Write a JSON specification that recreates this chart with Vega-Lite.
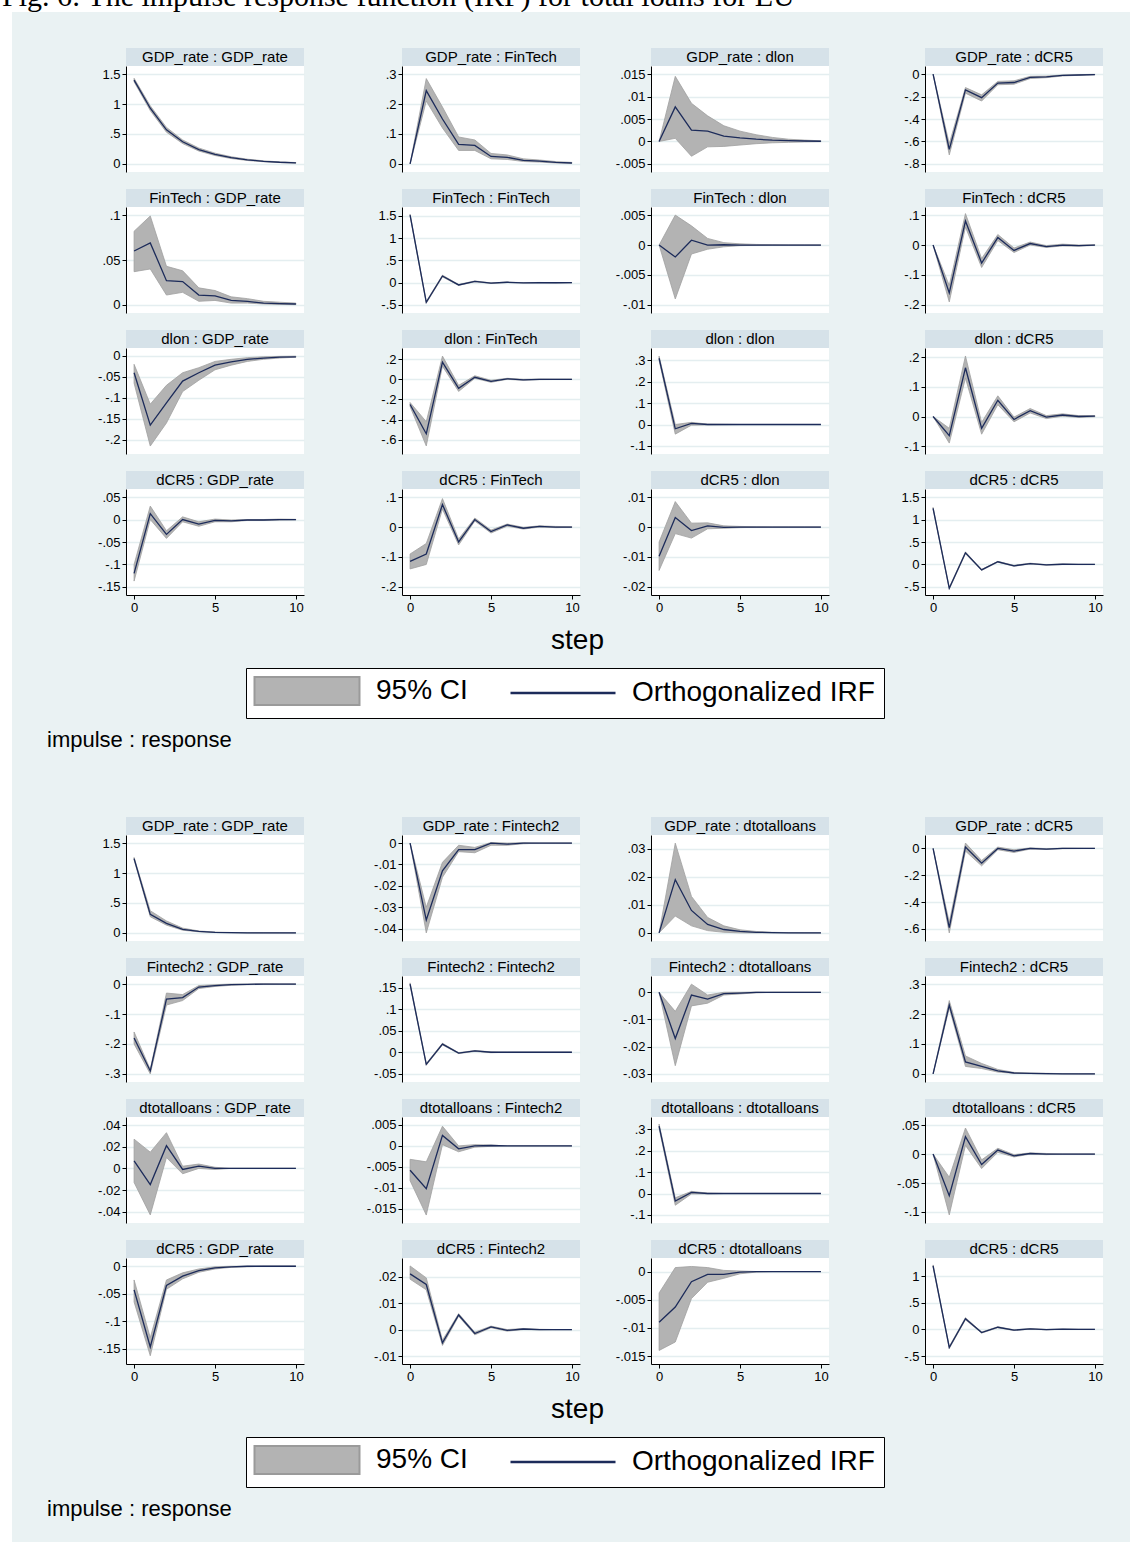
{
"$schema":"https://vega.github.io/schema/vega-lite/v6.json",
"background":"#eaf2f3",
"padding":0,
"spacing":0,
"config":{
 "font":"Liberation Sans",
 "view":{"stroke":null,"fill":"white"},
 "axis":{"labelFontSize":13,"labelColor":"black","domainColor":"black","domainWidth":1,"tickColor":"black","tickSize":4,"tickWidth":1,"labelPadding":2,"gridColor":"#e4eef0","gridWidth":1.3,"labelOverlap":false},
 "axisY":{"grid":true,"labelExpr":"(datum.value < 0 ? '-' : '') + replace(format(abs(datum.value), '~r'), '0.', '.')"},
 "axisX":{"grid":false,"labelFlush":false},
 "area":{"color":"#b3b3b3","stroke":"#a0a0a0","strokeWidth":0.8},
 "line":{"color":"#1c2b5a","strokeWidth":1.3},
 "text":{"fontSize":15,"color":"black"},
 "title":{"color":"black","fontWeight":"normal"}
},
"datasets":{
"t11":[{"s":0,"v":1.4,"l":1.37,"h":1.43},{"s":1,"v":0.93,"l":0.89,"h":0.97},{"s":2,"v":0.57,"l":0.53,"h":0.61},{"s":3,"v":0.37,"l":0.34,"h":0.4},{"s":4,"v":0.24,"l":0.215,"h":0.265},{"s":5,"v":0.16,"l":0.14,"h":0.18},{"s":6,"v":0.105,"l":0.09,"h":0.12},{"s":7,"v":0.068,"l":0.057,"h":0.079},{"s":8,"v":0.044,"l":0.036,"h":0.052},{"s":9,"v":0.028,"l":0.022,"h":0.034},{"s":10,"v":0.018,"l":0.013,"h":0.023}],
"t12":[{"s":0,"v":0,"l":0,"h":0},{"s":1,"v":0.245,"l":0.21,"h":0.285},{"s":2,"v":0.15,"l":0.12,"h":0.19},{"s":3,"v":0.065,"l":0.045,"h":0.09},{"s":4,"v":0.062,"l":0.045,"h":0.08},{"s":5,"v":0.025,"l":0.017,"h":0.035},{"s":6,"v":0.022,"l":0.015,"h":0.03},{"s":7,"v":0.012,"l":0.008,"h":0.017},{"s":8,"v":0.009,"l":0.006,"h":0.013},{"s":9,"v":0.005,"l":0.003,"h":0.008},{"s":10,"v":0.003,"l":0.002,"h":0.005}],
"t13":[{"s":0,"v":0,"l":0,"h":0},{"s":1,"v":0.0077,"l":0.0007,"h":0.0145},{"s":2,"v":0.0025,"l":-0.0033,"h":0.0085},{"s":3,"v":0.0023,"l":-0.0012,"h":0.0057},{"s":4,"v":0.0012,"l":-0.0011,"h":0.0035},{"s":5,"v":0.0008,"l":-0.0008,"h":0.0023},{"s":6,"v":0.0005,"l":-0.0005,"h":0.0015},{"s":7,"v":0.0003,"l":-0.0003,"h":0.0009},{"s":8,"v":0.0002,"l":-0.0002,"h":0.0005},{"s":9,"v":0.0001,"l":-0.0001,"h":0.0003},{"s":10,"v":0.00005,"l":-0.00005,"h":0.00015}],
"t14":[{"s":0,"v":0,"l":0,"h":0},{"s":1,"v":-0.67,"l":-0.72,"h":-0.62},{"s":2,"v":-0.14,"l":-0.17,"h":-0.12},{"s":3,"v":-0.21,"l":-0.24,"h":-0.185},{"s":4,"v":-0.08,"l":-0.095,"h":-0.065},{"s":5,"v":-0.075,"l":-0.09,"h":-0.06},{"s":6,"v":-0.03,"l":-0.04,"h":-0.02},{"s":7,"v":-0.025,"l":-0.032,"h":-0.018},{"s":8,"v":-0.012,"l":-0.017,"h":-0.008},{"s":9,"v":-0.008,"l":-0.011,"h":-0.005},{"s":10,"v":-0.004,"l":-0.006,"h":-0.002}],
"t21":[{"s":0,"v":0.06,"l":0.037,"h":0.082},{"s":1,"v":0.069,"l":0.04,"h":0.099},{"s":2,"v":0.027,"l":0.011,"h":0.043},{"s":3,"v":0.026,"l":0.014,"h":0.038},{"s":4,"v":0.011,"l":0.004,"h":0.019},{"s":5,"v":0.01,"l":0.005,"h":0.016},{"s":6,"v":0.005,"l":0.002,"h":0.009},{"s":7,"v":0.004,"l":0.002,"h":0.007},{"s":8,"v":0.002,"l":0.001,"h":0.004},{"s":9,"v":0.0015,"l":0.0005,"h":0.003},{"s":10,"v":0.001,"l":0.0003,"h":0.002}],
"t22":[{"s":0,"v":1.52,"l":1.5,"h":1.54},{"s":1,"v":-0.44,"l":-0.46,"h":-0.42},{"s":2,"v":0.15,"l":0.13,"h":0.17},{"s":3,"v":-0.05,"l":-0.06,"h":-0.04},{"s":4,"v":0.03,"l":0.02,"h":0.04},{"s":5,"v":-0.01,"l":-0.016,"h":-0.004},{"s":6,"v":0.01,"l":0.005,"h":0.015},{"s":7,"v":-0.003,"l":-0.006,"h":0},{"s":8,"v":0.003,"l":0,"h":0.006},{"s":9,"v":-0.001,"l":-0.003,"h":0.001},{"s":10,"v":0,"l":-0.001,"h":0.001}],
"t23":[{"s":0,"v":0,"l":0,"h":0},{"s":1,"v":-0.002,"l":-0.009,"h":0.005},{"s":2,"v":0.0008,"l":-0.0015,"h":0.0032},{"s":3,"v":0,"l":-0.0007,"h":0.0011},{"s":4,"v":0.00005,"l":-0.0003,"h":0.0004},{"s":5,"v":0,"l":-0.0001,"h":0.0002},{"s":6,"v":0,"l":-0.00005,"h":0.0001},{"s":7,"v":0,"l":0,"h":0.00005},{"s":8,"v":0,"l":0,"h":0},{"s":9,"v":0,"l":0,"h":0},{"s":10,"v":0,"l":0,"h":0}],
"t24":[{"s":0,"v":0,"l":0,"h":0},{"s":1,"v":-0.16,"l":-0.19,"h":-0.135},{"s":2,"v":0.08,"l":0.06,"h":0.105},{"s":3,"v":-0.06,"l":-0.075,"h":-0.045},{"s":4,"v":0.025,"l":0.015,"h":0.035},{"s":5,"v":-0.018,"l":-0.025,"h":-0.01},{"s":6,"v":0.005,"l":0,"h":0.01},{"s":7,"v":-0.005,"l":-0.008,"h":-0.002},{"s":8,"v":0,"l":-0.003,"h":0.003},{"s":9,"v":-0.002,"l":-0.004,"h":0},{"s":10,"v":0,"l":-0.001,"h":0.001}],
"t31":[{"s":0,"v":-0.04,"l":-0.065,"h":-0.02},{"s":1,"v":-0.165,"l":-0.215,"h":-0.115},{"s":2,"v":-0.112,"l":-0.16,"h":-0.07},{"s":3,"v":-0.06,"l":-0.085,"h":-0.04},{"s":4,"v":-0.04,"l":-0.058,"h":-0.028},{"s":5,"v":-0.022,"l":-0.033,"h":-0.013},{"s":6,"v":-0.014,"l":-0.022,"h":-0.008},{"s":7,"v":-0.008,"l":-0.013,"h":-0.004},{"s":8,"v":-0.005,"l":-0.008,"h":-0.002},{"s":9,"v":-0.003,"l":-0.005,"h":-0.001},{"s":10,"v":-0.002,"l":-0.003,"h":-0.0005}],
"t32":[{"s":0,"v":-0.25,"l":-0.27,"h":-0.23},{"s":1,"v":-0.54,"l":-0.66,"h":-0.42},{"s":2,"v":0.17,"l":0.13,"h":0.23},{"s":3,"v":-0.09,"l":-0.12,"h":-0.06},{"s":4,"v":0.02,"l":0.01,"h":0.035},{"s":5,"v":-0.02,"l":-0.03,"h":-0.01},{"s":6,"v":0.005,"l":0,"h":0.01},{"s":7,"v":-0.005,"l":-0.01,"h":0},{"s":8,"v":0,"l":-0.003,"h":0.003},{"s":9,"v":0,"l":-0.002,"h":0.002},{"s":10,"v":0,"l":-0.001,"h":0.001}],
"t33":[{"s":0,"v":0.31,"l":0.3,"h":0.32},{"s":1,"v":-0.02,"l":-0.045,"h":0},{"s":2,"v":0.005,"l":-0.003,"h":0.01},{"s":3,"v":0,"l":-0.002,"h":0.002},{"s":4,"v":0,"l":-0.001,"h":0.001},{"s":5,"v":0,"l":0,"h":0},{"s":6,"v":0,"l":0,"h":0},{"s":7,"v":0,"l":0,"h":0},{"s":8,"v":0,"l":0,"h":0},{"s":9,"v":0,"l":0,"h":0},{"s":10,"v":0,"l":0,"h":0}],
"t34":[{"s":0,"v":0,"l":0,"h":0},{"s":1,"v":-0.065,"l":-0.09,"h":-0.04},{"s":2,"v":0.165,"l":0.13,"h":0.205},{"s":3,"v":-0.04,"l":-0.06,"h":-0.02},{"s":4,"v":0.055,"l":0.04,"h":0.07},{"s":5,"v":-0.01,"l":-0.018,"h":-0.002},{"s":6,"v":0.02,"l":0.012,"h":0.027},{"s":7,"v":-0.002,"l":-0.007,"h":0.003},{"s":8,"v":0.005,"l":0.001,"h":0.009},{"s":9,"v":0,"l":-0.003,"h":0.003},{"s":10,"v":0.001,"l":-0.001,"h":0.003}],
"t41":[{"s":0,"v":-0.12,"l":-0.137,"h":-0.1},{"s":1,"v":0.013,"l":0,"h":0.03},{"s":2,"v":-0.033,"l":-0.042,"h":-0.025},{"s":3,"v":0,"l":-0.005,"h":0.006},{"s":4,"v":-0.01,"l":-0.015,"h":-0.005},{"s":5,"v":-0.002,"l":-0.005,"h":0.001},{"s":6,"v":-0.003,"l":-0.005,"h":-0.001},{"s":7,"v":-0.001,"l":-0.002,"h":0},{"s":8,"v":-0.001,"l":-0.002,"h":0},{"s":9,"v":0,"l":-0.001,"h":0.001},{"s":10,"v":0,"l":-0.0005,"h":0.0005}],
"t42":[{"s":0,"v":-0.115,"l":-0.14,"h":-0.09},{"s":1,"v":-0.09,"l":-0.125,"h":-0.055},{"s":2,"v":0.075,"l":0.06,"h":0.095},{"s":3,"v":-0.05,"l":-0.06,"h":-0.04},{"s":4,"v":0.025,"l":0.02,"h":0.03},{"s":5,"v":-0.015,"l":-0.02,"h":-0.01},{"s":6,"v":0.007,"l":0.003,"h":0.01},{"s":7,"v":-0.004,"l":-0.007,"h":-0.001},{"s":8,"v":0.002,"l":0,"h":0.004},{"s":9,"v":0,"l":-0.002,"h":0.002},{"s":10,"v":0,"l":-0.001,"h":0.001}],
"t43":[{"s":0,"v":-0.0098,"l":-0.0145,"h":-0.005},{"s":1,"v":0.0032,"l":-0.0022,"h":0.0085},{"s":2,"v":-0.0012,"l":-0.0037,"h":0.0013},{"s":3,"v":0.0004,"l":-0.0006,"h":0.0014},{"s":4,"v":-0.0001,"l":-0.0004,"h":0.0004},{"s":5,"v":0,"l":-0.0002,"h":0.0002},{"s":6,"v":0,"l":-0.0001,"h":0.0001},{"s":7,"v":0,"l":0,"h":0},{"s":8,"v":0,"l":0,"h":0},{"s":9,"v":0,"l":0,"h":0},{"s":10,"v":0,"l":0,"h":0}],
"t44":[{"s":0,"v":1.25,"l":1.23,"h":1.27},{"s":1,"v":-0.53,"l":-0.55,"h":-0.51},{"s":2,"v":0.26,"l":0.24,"h":0.28},{"s":3,"v":-0.12,"l":-0.13,"h":-0.11},{"s":4,"v":0.06,"l":0.05,"h":0.07},{"s":5,"v":-0.03,"l":-0.04,"h":-0.02},{"s":6,"v":0.02,"l":0.012,"h":0.028},{"s":7,"v":-0.01,"l":-0.016,"h":-0.004},{"s":8,"v":0.005,"l":0,"h":0.01},{"s":9,"v":0,"l":-0.003,"h":0.003},{"s":10,"v":0,"l":-0.002,"h":0.002}],
"b11":[{"s":0,"v":1.24,"l":1.22,"h":1.26},{"s":1,"v":0.31,"l":0.27,"h":0.37},{"s":2,"v":0.16,"l":0.13,"h":0.2},{"s":3,"v":0.06,"l":0.045,"h":0.08},{"s":4,"v":0.025,"l":0.018,"h":0.033},{"s":5,"v":0.01,"l":0.006,"h":0.015},{"s":6,"v":0.005,"l":0.002,"h":0.007},{"s":7,"v":0.002,"l":0.001,"h":0.003},{"s":8,"v":0.001,"l":0,"h":0.002},{"s":9,"v":0,"l":0,"h":0.001},{"s":10,"v":0,"l":0,"h":0}],
"b12":[{"s":0,"v":0,"l":0,"h":0},{"s":1,"v":-0.036,"l":-0.042,"h":-0.03},{"s":2,"v":-0.013,"l":-0.016,"h":-0.009},{"s":3,"v":-0.003,"l":-0.004,"h":-0.001},{"s":4,"v":-0.003,"l":-0.0045,"h":-0.002},{"s":5,"v":0,"l":-0.001,"h":0.0003},{"s":6,"v":-0.0005,"l":-0.001,"h":0},{"s":7,"v":0,"l":-0.0003,"h":0.0002},{"s":8,"v":0,"l":0,"h":0},{"s":9,"v":0,"l":0,"h":0},{"s":10,"v":0,"l":0,"h":0}],
"b13":[{"s":0,"v":0,"l":0,"h":0},{"s":1,"v":0.019,"l":0.006,"h":0.032},{"s":2,"v":0.008,"l":0.0025,"h":0.013},{"s":3,"v":0.003,"l":0.0008,"h":0.0055},{"s":4,"v":0.0012,"l":0.0002,"h":0.0025},{"s":5,"v":0.0005,"l":0,"h":0.0011},{"s":6,"v":0.0002,"l":0,"h":0.0005},{"s":7,"v":0.0001,"l":0,"h":0.0002},{"s":8,"v":0,"l":0,"h":0.0001},{"s":9,"v":0,"l":0,"h":0},{"s":10,"v":0,"l":0,"h":0}],
"b14":[{"s":0,"v":0,"l":0,"h":0},{"s":1,"v":-0.59,"l":-0.63,"h":-0.55},{"s":2,"v":0.01,"l":-0.02,"h":0.04},{"s":3,"v":-0.11,"l":-0.13,"h":-0.09},{"s":4,"v":0,"l":-0.01,"h":0.01},{"s":5,"v":-0.02,"l":-0.03,"h":-0.01},{"s":6,"v":0,"l":-0.005,"h":0.004},{"s":7,"v":-0.005,"l":-0.008,"h":-0.002},{"s":8,"v":0,"l":-0.002,"h":0.002},{"s":9,"v":0,"l":-0.001,"h":0.001},{"s":10,"v":0,"l":0,"h":0}],
"b21":[{"s":0,"v":-0.18,"l":-0.2,"h":-0.16},{"s":1,"v":-0.29,"l":-0.3,"h":-0.285},{"s":2,"v":-0.05,"l":-0.07,"h":-0.03},{"s":3,"v":-0.045,"l":-0.055,"h":-0.035},{"s":4,"v":-0.01,"l":-0.015,"h":-0.005},{"s":5,"v":-0.005,"l":-0.008,"h":-0.002},{"s":6,"v":-0.002,"l":-0.004,"h":0},{"s":7,"v":-0.001,"l":-0.002,"h":0},{"s":8,"v":0,"l":-0.001,"h":0.001},{"s":9,"v":0,"l":0,"h":0},{"s":10,"v":0,"l":0,"h":0}],
"b22":[{"s":0,"v":0.158,"l":0.155,"h":0.161},{"s":1,"v":-0.028,"l":-0.03,"h":-0.026},{"s":2,"v":0.019,"l":0.017,"h":0.021},{"s":3,"v":-0.002,"l":-0.003,"h":-0.001},{"s":4,"v":0.003,"l":0.002,"h":0.004},{"s":5,"v":0,"l":-0.001,"h":0.001},{"s":6,"v":0,"l":0,"h":0},{"s":7,"v":0,"l":0,"h":0},{"s":8,"v":0,"l":0,"h":0},{"s":9,"v":0,"l":0,"h":0},{"s":10,"v":0,"l":0,"h":0}],
"b23":[{"s":0,"v":0,"l":0,"h":0},{"s":1,"v":-0.017,"l":-0.027,"h":-0.007},{"s":2,"v":-0.001,"l":-0.005,"h":0.003},{"s":3,"v":-0.0025,"l":-0.004,"h":-0.001},{"s":4,"v":-0.0005,"l":-0.001,"h":0},{"s":5,"v":-0.0003,"l":-0.0006,"h":0},{"s":6,"v":0,"l":-0.0002,"h":0.0001},{"s":7,"v":0,"l":0,"h":0},{"s":8,"v":0,"l":0,"h":0},{"s":9,"v":0,"l":0,"h":0},{"s":10,"v":0,"l":0,"h":0}],
"b24":[{"s":0,"v":0,"l":0,"h":0},{"s":1,"v":0.23,"l":0.22,"h":0.245},{"s":2,"v":0.04,"l":0.025,"h":0.06},{"s":3,"v":0.025,"l":0.018,"h":0.035},{"s":4,"v":0.01,"l":0.006,"h":0.015},{"s":5,"v":0.003,"l":0.002,"h":0.005},{"s":6,"v":0.002,"l":0.001,"h":0.003},{"s":7,"v":0.001,"l":0,"h":0.002},{"s":8,"v":0,"l":0,"h":0.001},{"s":9,"v":0,"l":0,"h":0},{"s":10,"v":0,"l":0,"h":0}],
"b31":[{"s":0,"v":0.007,"l":-0.013,"h":0.027},{"s":1,"v":-0.015,"l":-0.043,"h":0.015},{"s":2,"v":0.021,"l":0.01,"h":0.033},{"s":3,"v":-0.001,"l":-0.005,"h":0.002},{"s":4,"v":0.002,"l":0,"h":0.004},{"s":5,"v":0,"l":-0.001,"h":0.001},{"s":6,"v":0,"l":0,"h":0},{"s":7,"v":0,"l":0,"h":0},{"s":8,"v":0,"l":0,"h":0},{"s":9,"v":0,"l":0,"h":0},{"s":10,"v":0,"l":0,"h":0}],
"b32":[{"s":0,"v":-0.0058,"l":-0.0083,"h":-0.0032},{"s":1,"v":-0.0102,"l":-0.0165,"h":-0.0038},{"s":2,"v":0.0025,"l":0.0003,"h":0.0047},{"s":3,"v":-0.0007,"l":-0.0014,"h":0},{"s":4,"v":0,"l":-0.0003,"h":0.0003},{"s":5,"v":0.0001,"l":-0.0001,"h":0.0002},{"s":6,"v":0,"l":0,"h":0},{"s":7,"v":0,"l":0,"h":0},{"s":8,"v":0,"l":0,"h":0},{"s":9,"v":0,"l":0,"h":0},{"s":10,"v":0,"l":0,"h":0}],
"b33":[{"s":0,"v":0.315,"l":0.305,"h":0.325},{"s":1,"v":-0.035,"l":-0.055,"h":-0.02},{"s":2,"v":0.005,"l":-0.002,"h":0.01},{"s":3,"v":0,"l":-0.002,"h":0.002},{"s":4,"v":0,"l":0,"h":0},{"s":5,"v":0,"l":0,"h":0},{"s":6,"v":0,"l":0,"h":0},{"s":7,"v":0,"l":0,"h":0},{"s":8,"v":0,"l":0,"h":0},{"s":9,"v":0,"l":0,"h":0},{"s":10,"v":0,"l":0,"h":0}],
"b34":[{"s":0,"v":0,"l":0,"h":0},{"s":1,"v":-0.072,"l":-0.105,"h":-0.04},{"s":2,"v":0.03,"l":0.015,"h":0.045},{"s":3,"v":-0.018,"l":-0.025,"h":-0.01},{"s":4,"v":0.007,"l":0.003,"h":0.01},{"s":5,"v":-0.003,"l":-0.005,"h":-0.001},{"s":6,"v":0.001,"l":0,"h":0.002},{"s":7,"v":0,"l":-0.001,"h":0.001},{"s":8,"v":0,"l":0,"h":0},{"s":9,"v":0,"l":0,"h":0},{"s":10,"v":0,"l":0,"h":0}],
"b41":[{"s":0,"v":-0.043,"l":-0.065,"h":-0.025},{"s":1,"v":-0.147,"l":-0.163,"h":-0.13},{"s":2,"v":-0.035,"l":-0.042,"h":-0.025},{"s":3,"v":-0.018,"l":-0.023,"h":-0.012},{"s":4,"v":-0.008,"l":-0.011,"h":-0.005},{"s":5,"v":-0.003,"l":-0.005,"h":-0.001},{"s":6,"v":-0.001,"l":-0.002,"h":0},{"s":7,"v":0,"l":-0.001,"h":0},{"s":8,"v":0,"l":0,"h":0},{"s":9,"v":0,"l":0,"h":0},{"s":10,"v":0,"l":0,"h":0}],
"b42":[{"s":0,"v":0.021,"l":0.019,"h":0.024},{"s":1,"v":0.017,"l":0.015,"h":0.0195},{"s":2,"v":-0.005,"l":-0.006,"h":-0.004},{"s":3,"v":0.0055,"l":0.005,"h":0.006},{"s":4,"v":-0.0015,"l":-0.002,"h":-0.001},{"s":5,"v":0.001,"l":0.0007,"h":0.0013},{"s":6,"v":-0.0003,"l":-0.0006,"h":0},{"s":7,"v":0.0002,"l":0,"h":0.0004},{"s":8,"v":0,"l":-0.0001,"h":0.0001},{"s":9,"v":0,"l":0,"h":0},{"s":10,"v":0,"l":0,"h":0}],
"b43":[{"s":0,"v":-0.009,"l":-0.014,"h":-0.0038},{"s":1,"v":-0.0063,"l":-0.0125,"h":0.0007},{"s":2,"v":-0.0018,"l":-0.0048,"h":0.0009},{"s":3,"v":-0.0005,"l":-0.0019,"h":0.0007},{"s":4,"v":-0.0005,"l":-0.0012,"h":0.0002},{"s":5,"v":-0.0001,"l":-0.0004,"h":0.0001},{"s":6,"v":0,"l":-0.0001,"h":0},{"s":7,"v":0,"l":0,"h":0},{"s":8,"v":0,"l":0,"h":0},{"s":9,"v":0,"l":0,"h":0},{"s":10,"v":0,"l":0,"h":0}],
"b44":[{"s":0,"v":1.19,"l":1.17,"h":1.21},{"s":1,"v":-0.34,"l":-0.36,"h":-0.32},{"s":2,"v":0.2,"l":0.18,"h":0.22},{"s":3,"v":-0.06,"l":-0.07,"h":-0.05},{"s":4,"v":0.04,"l":0.03,"h":0.05},{"s":5,"v":-0.015,"l":-0.022,"h":-0.008},{"s":6,"v":0.01,"l":0.005,"h":0.015},{"s":7,"v":-0.005,"l":-0.009,"h":-0.001},{"s":8,"v":0.003,"l":0,"h":0.006},{"s":9,"v":0,"l":-0.002,"h":0.002},{"s":10,"v":0,"l":-0.001,"h":0.001}]
},
"vconcat":[
{"width":1130,"height":12,"data":{"values":[{"t":"Fig. 6: The impulse response function (IRF) for total loans for EU"}]},"mark":{"type":"text","clip":true,"font":"Liberation Serif","fontSize":30,"align":"left","baseline":"alphabetic","dx":-563},"encoding":{"text":{"field":"t"}},"view":{"fill":"white"}},
{"spacing":0,"hconcat":[
{"width":12,"height":1530,"data":{"values":[]},"mark":"point","view":{"fill":"white"}},
{"spacing":12,"resolve":{"scale":{"color":"independent"},"legend":{"color":"independent"}},"vconcat":[
{"width":1,"height":24,"data":{"values":[]},"mark":"point","view":{"fill":"transparent"}},
{"columns":4,"spacing":{"row":17,"column":10},"title":{"text":"step","orient":"bottom","fontSize":28,"anchor":"middle","offset":13,"dx":20},"concat":[
{"spacing":0,"vconcat":[{"width":178,"height":18,"data":{"values":[{"t":"GDP_rate : GDP_rate"}]},"mark":"text","encoding":{"text":{"field":"t"}},"view":{"fill":"#d6e2e9"}},{"width":178,"height":106,"data":{"name":"t11"},"encoding":{"x":{"field":"s","type":"quantitative","title":null,"scale":{"domain":[-0.5,10.5],"nice":false,"zero":false},"axis":null}},"layer":[{"mark":"area","encoding":{"y":{"field":"l","type":"quantitative","title":null,"scale":{"domain":[-0.135,1.635],"nice":false,"zero":false},"axis":{"values":[0,0.5,1,1.5],"minExtent":114,"maxExtent":114}},"y2":{"field":"h"}}},{"mark":"line","encoding":{"y":{"field":"v","type":"quantitative","title":null,"scale":{"domain":[-0.135,1.635],"nice":false,"zero":false},"axis":{"values":[0,0.5,1,1.5],"minExtent":114,"maxExtent":114}}}}]}]},
{"spacing":0,"vconcat":[{"width":178,"height":18,"data":{"values":[{"t":"GDP_rate : FinTech"}]},"mark":"text","encoding":{"text":{"field":"t"}},"view":{"fill":"#d6e2e9"}},{"width":178,"height":106,"data":{"name":"t12"},"encoding":{"x":{"field":"s","type":"quantitative","title":null,"scale":{"domain":[-0.5,10.5],"nice":false,"zero":false},"axis":null}},"layer":[{"mark":"area","encoding":{"y":{"field":"l","type":"quantitative","title":null,"scale":{"domain":[-0.027,0.327],"nice":false,"zero":false},"axis":{"values":[0,0.1,0.2,0.3],"minExtent":88,"maxExtent":88}},"y2":{"field":"h"}}},{"mark":"line","encoding":{"y":{"field":"v","type":"quantitative","title":null,"scale":{"domain":[-0.027,0.327],"nice":false,"zero":false},"axis":{"values":[0,0.1,0.2,0.3],"minExtent":88,"maxExtent":88}}}}]}]},
{"spacing":0,"vconcat":[{"width":178,"height":18,"data":{"values":[{"t":"GDP_rate : dlon"}]},"mark":"text","encoding":{"text":{"field":"t"}},"view":{"fill":"#d6e2e9"}},{"width":178,"height":106,"data":{"name":"t13"},"encoding":{"x":{"field":"s","type":"quantitative","title":null,"scale":{"domain":[-0.5,10.5],"nice":false,"zero":false},"axis":null}},"layer":[{"mark":"area","encoding":{"y":{"field":"l","type":"quantitative","title":null,"scale":{"domain":[-0.0068,0.0168],"nice":false,"zero":false},"axis":{"values":[-0.005,0,0.005,0.01,0.015],"minExtent":61,"maxExtent":61}},"y2":{"field":"h"}}},{"mark":"line","encoding":{"y":{"field":"v","type":"quantitative","title":null,"scale":{"domain":[-0.0068,0.0168],"nice":false,"zero":false},"axis":{"values":[-0.005,0,0.005,0.01,0.015],"minExtent":61,"maxExtent":61}}}}]}]},
{"spacing":0,"vconcat":[{"width":178,"height":18,"data":{"values":[{"t":"GDP_rate : dCR5"}]},"mark":"text","encoding":{"text":{"field":"t"}},"view":{"fill":"#d6e2e9"}},{"width":178,"height":106,"data":{"name":"t14"},"encoding":{"x":{"field":"s","type":"quantitative","title":null,"scale":{"domain":[-0.5,10.5],"nice":false,"zero":false},"axis":null}},"layer":[{"mark":"area","encoding":{"y":{"field":"l","type":"quantitative","title":null,"scale":{"domain":[-0.872,0.072],"nice":false,"zero":false},"axis":{"values":[-0.8,-0.6,-0.4,-0.2,0],"minExtent":86,"maxExtent":86}},"y2":{"field":"h"}}},{"mark":"line","encoding":{"y":{"field":"v","type":"quantitative","title":null,"scale":{"domain":[-0.872,0.072],"nice":false,"zero":false},"axis":{"values":[-0.8,-0.6,-0.4,-0.2,0],"minExtent":86,"maxExtent":86}}}}]}]},
{"spacing":0,"vconcat":[{"width":178,"height":18,"data":{"values":[{"t":"FinTech : GDP_rate"}]},"mark":"text","encoding":{"text":{"field":"t"}},"view":{"fill":"#d6e2e9"}},{"width":178,"height":106,"data":{"name":"t21"},"encoding":{"x":{"field":"s","type":"quantitative","title":null,"scale":{"domain":[-0.5,10.5],"nice":false,"zero":false},"axis":null}},"layer":[{"mark":"area","encoding":{"y":{"field":"l","type":"quantitative","title":null,"scale":{"domain":[-0.009,0.109],"nice":false,"zero":false},"axis":{"values":[0,0.05,0.1],"minExtent":114,"maxExtent":114}},"y2":{"field":"h"}}},{"mark":"line","encoding":{"y":{"field":"v","type":"quantitative","title":null,"scale":{"domain":[-0.009,0.109],"nice":false,"zero":false},"axis":{"values":[0,0.05,0.1],"minExtent":114,"maxExtent":114}}}}]}]},
{"spacing":0,"vconcat":[{"width":178,"height":18,"data":{"values":[{"t":"FinTech : FinTech"}]},"mark":"text","encoding":{"text":{"field":"t"}},"view":{"fill":"#d6e2e9"}},{"width":178,"height":106,"data":{"name":"t22"},"encoding":{"x":{"field":"s","type":"quantitative","title":null,"scale":{"domain":[-0.5,10.5],"nice":false,"zero":false},"axis":null}},"layer":[{"mark":"area","encoding":{"y":{"field":"l","type":"quantitative","title":null,"scale":{"domain":[-0.68,1.7],"nice":false,"zero":false},"axis":{"values":[-0.5,0,0.5,1,1.5],"minExtent":88,"maxExtent":88}},"y2":{"field":"h"}}},{"mark":"line","encoding":{"y":{"field":"v","type":"quantitative","title":null,"scale":{"domain":[-0.68,1.7],"nice":false,"zero":false},"axis":{"values":[-0.5,0,0.5,1,1.5],"minExtent":88,"maxExtent":88}}}}]}]},
{"spacing":0,"vconcat":[{"width":178,"height":18,"data":{"values":[{"t":"FinTech : dlon"}]},"mark":"text","encoding":{"text":{"field":"t"}},"view":{"fill":"#d6e2e9"}},{"width":178,"height":106,"data":{"name":"t23"},"encoding":{"x":{"field":"s","type":"quantitative","title":null,"scale":{"domain":[-0.5,10.5],"nice":false,"zero":false},"axis":null}},"layer":[{"mark":"area","encoding":{"y":{"field":"l","type":"quantitative","title":null,"scale":{"domain":[-0.01135,0.00635],"nice":false,"zero":false},"axis":{"values":[-0.01,-0.005,0,0.005],"minExtent":61,"maxExtent":61}},"y2":{"field":"h"}}},{"mark":"line","encoding":{"y":{"field":"v","type":"quantitative","title":null,"scale":{"domain":[-0.01135,0.00635],"nice":false,"zero":false},"axis":{"values":[-0.01,-0.005,0,0.005],"minExtent":61,"maxExtent":61}}}}]}]},
{"spacing":0,"vconcat":[{"width":178,"height":18,"data":{"values":[{"t":"FinTech : dCR5"}]},"mark":"text","encoding":{"text":{"field":"t"}},"view":{"fill":"#d6e2e9"}},{"width":178,"height":106,"data":{"name":"t24"},"encoding":{"x":{"field":"s","type":"quantitative","title":null,"scale":{"domain":[-0.5,10.5],"nice":false,"zero":false},"axis":null}},"layer":[{"mark":"area","encoding":{"y":{"field":"l","type":"quantitative","title":null,"scale":{"domain":[-0.227,0.127],"nice":false,"zero":false},"axis":{"values":[-0.2,-0.1,0,0.1],"minExtent":86,"maxExtent":86}},"y2":{"field":"h"}}},{"mark":"line","encoding":{"y":{"field":"v","type":"quantitative","title":null,"scale":{"domain":[-0.227,0.127],"nice":false,"zero":false},"axis":{"values":[-0.2,-0.1,0,0.1],"minExtent":86,"maxExtent":86}}}}]}]},
{"spacing":0,"vconcat":[{"width":178,"height":18,"data":{"values":[{"t":"dlon : GDP_rate"}]},"mark":"text","encoding":{"text":{"field":"t"}},"view":{"fill":"#d6e2e9"}},{"width":178,"height":106,"data":{"name":"t31"},"encoding":{"x":{"field":"s","type":"quantitative","title":null,"scale":{"domain":[-0.5,10.5],"nice":false,"zero":false},"axis":null}},"layer":[{"mark":"area","encoding":{"y":{"field":"l","type":"quantitative","title":null,"scale":{"domain":[-0.234,0.019],"nice":false,"zero":false},"axis":{"values":[-0.2,-0.15,-0.1,-0.05,0],"minExtent":114,"maxExtent":114}},"y2":{"field":"h"}}},{"mark":"line","encoding":{"y":{"field":"v","type":"quantitative","title":null,"scale":{"domain":[-0.234,0.019],"nice":false,"zero":false},"axis":{"values":[-0.2,-0.15,-0.1,-0.05,0],"minExtent":114,"maxExtent":114}}}}]}]},
{"spacing":0,"vconcat":[{"width":178,"height":18,"data":{"values":[{"t":"dlon : FinTech"}]},"mark":"text","encoding":{"text":{"field":"t"}},"view":{"fill":"#d6e2e9"}},{"width":178,"height":106,"data":{"name":"t32"},"encoding":{"x":{"field":"s","type":"quantitative","title":null,"scale":{"domain":[-0.5,10.5],"nice":false,"zero":false},"axis":null}},"layer":[{"mark":"area","encoding":{"y":{"field":"l","type":"quantitative","title":null,"scale":{"domain":[-0.74,0.31],"nice":false,"zero":false},"axis":{"values":[-0.6,-0.4,-0.2,0,0.2],"minExtent":88,"maxExtent":88}},"y2":{"field":"h"}}},{"mark":"line","encoding":{"y":{"field":"v","type":"quantitative","title":null,"scale":{"domain":[-0.74,0.31],"nice":false,"zero":false},"axis":{"values":[-0.6,-0.4,-0.2,0,0.2],"minExtent":88,"maxExtent":88}}}}]}]},
{"spacing":0,"vconcat":[{"width":178,"height":18,"data":{"values":[{"t":"dlon : dlon"}]},"mark":"text","encoding":{"text":{"field":"t"}},"view":{"fill":"#d6e2e9"}},{"width":178,"height":106,"data":{"name":"t33"},"encoding":{"x":{"field":"s","type":"quantitative","title":null,"scale":{"domain":[-0.5,10.5],"nice":false,"zero":false},"axis":null}},"layer":[{"mark":"area","encoding":{"y":{"field":"l","type":"quantitative","title":null,"scale":{"domain":[-0.138,0.358],"nice":false,"zero":false},"axis":{"values":[-0.1,0,0.1,0.2,0.3],"minExtent":61,"maxExtent":61}},"y2":{"field":"h"}}},{"mark":"line","encoding":{"y":{"field":"v","type":"quantitative","title":null,"scale":{"domain":[-0.138,0.358],"nice":false,"zero":false},"axis":{"values":[-0.1,0,0.1,0.2,0.3],"minExtent":61,"maxExtent":61}}}}]}]},
{"spacing":0,"vconcat":[{"width":178,"height":18,"data":{"values":[{"t":"dlon : dCR5"}]},"mark":"text","encoding":{"text":{"field":"t"}},"view":{"fill":"#d6e2e9"}},{"width":178,"height":106,"data":{"name":"t34"},"encoding":{"x":{"field":"s","type":"quantitative","title":null,"scale":{"domain":[-0.5,10.5],"nice":false,"zero":false},"axis":null}},"layer":[{"mark":"area","encoding":{"y":{"field":"l","type":"quantitative","title":null,"scale":{"domain":[-0.127,0.232],"nice":false,"zero":false},"axis":{"values":[-0.1,0,0.1,0.2],"minExtent":86,"maxExtent":86}},"y2":{"field":"h"}}},{"mark":"line","encoding":{"y":{"field":"v","type":"quantitative","title":null,"scale":{"domain":[-0.127,0.232],"nice":false,"zero":false},"axis":{"values":[-0.1,0,0.1,0.2],"minExtent":86,"maxExtent":86}}}}]}]},
{"spacing":0,"vconcat":[{"width":178,"height":18,"data":{"values":[{"t":"dCR5 : GDP_rate"}]},"mark":"text","encoding":{"text":{"field":"t"}},"view":{"fill":"#d6e2e9"}},{"width":178,"height":106,"data":{"name":"t41"},"encoding":{"x":{"field":"s","type":"quantitative","title":null,"scale":{"domain":[-0.5,10.5],"nice":false,"zero":false},"axis":{"values":[0,5,10]}}},"layer":[{"mark":"area","encoding":{"y":{"field":"l","type":"quantitative","title":null,"scale":{"domain":[-0.168,0.068],"nice":false,"zero":false},"axis":{"values":[-0.15,-0.1,-0.05,0,0.05],"minExtent":114,"maxExtent":114}},"y2":{"field":"h"}}},{"mark":"line","encoding":{"y":{"field":"v","type":"quantitative","title":null,"scale":{"domain":[-0.168,0.068],"nice":false,"zero":false},"axis":{"values":[-0.15,-0.1,-0.05,0,0.05],"minExtent":114,"maxExtent":114}}}}]}]},
{"spacing":0,"vconcat":[{"width":178,"height":18,"data":{"values":[{"t":"dCR5 : FinTech"}]},"mark":"text","encoding":{"text":{"field":"t"}},"view":{"fill":"#d6e2e9"}},{"width":178,"height":106,"data":{"name":"t42"},"encoding":{"x":{"field":"s","type":"quantitative","title":null,"scale":{"domain":[-0.5,10.5],"nice":false,"zero":false},"axis":{"values":[0,5,10]}}},"layer":[{"mark":"area","encoding":{"y":{"field":"l","type":"quantitative","title":null,"scale":{"domain":[-0.227,0.127],"nice":false,"zero":false},"axis":{"values":[-0.2,-0.1,0,0.1],"minExtent":88,"maxExtent":88}},"y2":{"field":"h"}}},{"mark":"line","encoding":{"y":{"field":"v","type":"quantitative","title":null,"scale":{"domain":[-0.227,0.127],"nice":false,"zero":false},"axis":{"values":[-0.2,-0.1,0,0.1],"minExtent":88,"maxExtent":88}}}}]}]},
{"spacing":0,"vconcat":[{"width":178,"height":18,"data":{"values":[{"t":"dCR5 : dlon"}]},"mark":"text","encoding":{"text":{"field":"t"}},"view":{"fill":"#d6e2e9"}},{"width":178,"height":106,"data":{"name":"t43"},"encoding":{"x":{"field":"s","type":"quantitative","title":null,"scale":{"domain":[-0.5,10.5],"nice":false,"zero":false},"axis":{"values":[0,5,10]}}},"layer":[{"mark":"area","encoding":{"y":{"field":"l","type":"quantitative","title":null,"scale":{"domain":[-0.0227,0.0127],"nice":false,"zero":false},"axis":{"values":[-0.02,-0.01,0,0.01],"minExtent":61,"maxExtent":61}},"y2":{"field":"h"}}},{"mark":"line","encoding":{"y":{"field":"v","type":"quantitative","title":null,"scale":{"domain":[-0.0227,0.0127],"nice":false,"zero":false},"axis":{"values":[-0.02,-0.01,0,0.01],"minExtent":61,"maxExtent":61}}}}]}]},
{"spacing":0,"vconcat":[{"width":178,"height":18,"data":{"values":[{"t":"dCR5 : dCR5"}]},"mark":"text","encoding":{"text":{"field":"t"}},"view":{"fill":"#d6e2e9"}},{"width":178,"height":106,"data":{"name":"t44"},"encoding":{"x":{"field":"s","type":"quantitative","title":null,"scale":{"domain":[-0.5,10.5],"nice":false,"zero":false},"axis":{"values":[0,5,10]}}},"layer":[{"mark":"area","encoding":{"y":{"field":"l","type":"quantitative","title":null,"scale":{"domain":[-0.68,1.68],"nice":false,"zero":false},"axis":{"values":[-0.5,0,0.5,1,1.5],"minExtent":86,"maxExtent":86}},"y2":{"field":"h"}}},{"mark":"line","encoding":{"y":{"field":"v","type":"quantitative","title":null,"scale":{"domain":[-0.68,1.68],"nice":false,"zero":false},"axis":{"values":[-0.5,0,0.5,1,1.5],"minExtent":86,"maxExtent":86}}}}]}]}
]},
{"width":900,"height":46,"data":{"values":[{"k":"95% CI"},{"k":"Orthogonalized IRF"}]},"mark":{"type":"point","filled":true,"opacity":0},"encoding":{"color":{"field":"k","type":"nominal","scale":{"domain":["95% CI","Orthogonalized IRF"],"range":["#b3b3b3","#1c2b5a"]},"legend":{"orient":"none","legendX":120,"legendY":0,"direction":"horizontal","title":null,"fillColor":"white","strokeColor":"black","padding":9,"labelFontSize":28,"labelColor":"black","labelLimit":0,"symbolSize":784,"symbolOffset":38,"labelOffset":55,"columnPadding":37,"encode":{"symbols":{"update":{"shape":{"signal":"datum.value === '95% CI' ? 'M-3.75,-1H3.75V1H-3.75Z' : 'M-3.75,0H3.75'"},"fill":{"signal":"datum.value === '95% CI' ? '#b3b3b3' : 'transparent'"},"stroke":{"signal":"datum.value === '95% CI' ? '#9a9a9a' : '#1c2b5a'"},"strokeWidth":{"signal":"datum.value === '95% CI' ? 2 : 2.5"},"opacity":{"value":1},"fillOpacity":{"value":1},"strokeOpacity":{"value":1},"size":{"value":784}}}}}}},"title":{"text":"impulse : response","orient":"bottom","anchor":"start","fontSize":22,"offset":11,"dx":-79},"view":{"fill":"transparent"}},
{"width":1,"height":42,"data":{"values":[]},"mark":"point","view":{"fill":"transparent"}},
{"columns":4,"spacing":{"row":17,"column":10},"title":{"text":"step","orient":"bottom","fontSize":28,"anchor":"middle","offset":13,"dx":20},"concat":[
{"spacing":0,"vconcat":[{"width":178,"height":18,"data":{"values":[{"t":"GDP_rate : GDP_rate"}]},"mark":"text","encoding":{"text":{"field":"t"}},"view":{"fill":"#d6e2e9"}},{"width":178,"height":106,"data":{"name":"b11"},"encoding":{"x":{"field":"s","type":"quantitative","title":null,"scale":{"domain":[-0.5,10.5],"nice":false,"zero":false},"axis":null}},"layer":[{"mark":"area","encoding":{"y":{"field":"l","type":"quantitative","title":null,"scale":{"domain":[-0.135,1.635],"nice":false,"zero":false},"axis":{"values":[0,0.5,1,1.5],"minExtent":114,"maxExtent":114}},"y2":{"field":"h"}}},{"mark":"line","encoding":{"y":{"field":"v","type":"quantitative","title":null,"scale":{"domain":[-0.135,1.635],"nice":false,"zero":false},"axis":{"values":[0,0.5,1,1.5],"minExtent":114,"maxExtent":114}}}}]}]},
{"spacing":0,"vconcat":[{"width":178,"height":18,"data":{"values":[{"t":"GDP_rate : Fintech2"}]},"mark":"text","encoding":{"text":{"field":"t"}},"view":{"fill":"#d6e2e9"}},{"width":178,"height":106,"data":{"name":"b12"},"encoding":{"x":{"field":"s","type":"quantitative","title":null,"scale":{"domain":[-0.5,10.5],"nice":false,"zero":false},"axis":null}},"layer":[{"mark":"area","encoding":{"y":{"field":"l","type":"quantitative","title":null,"scale":{"domain":[-0.0458,0.0038],"nice":false,"zero":false},"axis":{"values":[-0.04,-0.03,-0.02,-0.01,0],"minExtent":88,"maxExtent":88}},"y2":{"field":"h"}}},{"mark":"line","encoding":{"y":{"field":"v","type":"quantitative","title":null,"scale":{"domain":[-0.0458,0.0038],"nice":false,"zero":false},"axis":{"values":[-0.04,-0.03,-0.02,-0.01,0],"minExtent":88,"maxExtent":88}}}}]}]},
{"spacing":0,"vconcat":[{"width":178,"height":18,"data":{"values":[{"t":"GDP_rate : dtotalloans"}]},"mark":"text","encoding":{"text":{"field":"t"}},"view":{"fill":"#d6e2e9"}},{"width":178,"height":106,"data":{"name":"b13"},"encoding":{"x":{"field":"s","type":"quantitative","title":null,"scale":{"domain":[-0.5,10.5],"nice":false,"zero":false},"axis":null}},"layer":[{"mark":"area","encoding":{"y":{"field":"l","type":"quantitative","title":null,"scale":{"domain":[-0.0029,0.0349],"nice":false,"zero":false},"axis":{"values":[0,0.01,0.02,0.03],"minExtent":61,"maxExtent":61}},"y2":{"field":"h"}}},{"mark":"line","encoding":{"y":{"field":"v","type":"quantitative","title":null,"scale":{"domain":[-0.0029,0.0349],"nice":false,"zero":false},"axis":{"values":[0,0.01,0.02,0.03],"minExtent":61,"maxExtent":61}}}}]}]},
{"spacing":0,"vconcat":[{"width":178,"height":18,"data":{"values":[{"t":"GDP_rate : dCR5"}]},"mark":"text","encoding":{"text":{"field":"t"}},"view":{"fill":"#d6e2e9"}},{"width":178,"height":106,"data":{"name":"b14"},"encoding":{"x":{"field":"s","type":"quantitative","title":null,"scale":{"domain":[-0.5,10.5],"nice":false,"zero":false},"axis":null}},"layer":[{"mark":"area","encoding":{"y":{"field":"l","type":"quantitative","title":null,"scale":{"domain":[-0.69,0.1],"nice":false,"zero":false},"axis":{"values":[-0.6,-0.4,-0.2,0],"minExtent":86,"maxExtent":86}},"y2":{"field":"h"}}},{"mark":"line","encoding":{"y":{"field":"v","type":"quantitative","title":null,"scale":{"domain":[-0.69,0.1],"nice":false,"zero":false},"axis":{"values":[-0.6,-0.4,-0.2,0],"minExtent":86,"maxExtent":86}}}}]}]},
{"spacing":0,"vconcat":[{"width":178,"height":18,"data":{"values":[{"t":"Fintech2 : GDP_rate"}]},"mark":"text","encoding":{"text":{"field":"t"}},"view":{"fill":"#d6e2e9"}},{"width":178,"height":106,"data":{"name":"b21"},"encoding":{"x":{"field":"s","type":"quantitative","title":null,"scale":{"domain":[-0.5,10.5],"nice":false,"zero":false},"axis":null}},"layer":[{"mark":"area","encoding":{"y":{"field":"l","type":"quantitative","title":null,"scale":{"domain":[-0.327,0.027],"nice":false,"zero":false},"axis":{"values":[-0.3,-0.2,-0.1,0],"minExtent":114,"maxExtent":114}},"y2":{"field":"h"}}},{"mark":"line","encoding":{"y":{"field":"v","type":"quantitative","title":null,"scale":{"domain":[-0.327,0.027],"nice":false,"zero":false},"axis":{"values":[-0.3,-0.2,-0.1,0],"minExtent":114,"maxExtent":114}}}}]}]},
{"spacing":0,"vconcat":[{"width":178,"height":18,"data":{"values":[{"t":"Fintech2 : Fintech2"}]},"mark":"text","encoding":{"text":{"field":"t"}},"view":{"fill":"#d6e2e9"}},{"width":178,"height":106,"data":{"name":"b22"},"encoding":{"x":{"field":"s","type":"quantitative","title":null,"scale":{"domain":[-0.5,10.5],"nice":false,"zero":false},"axis":null}},"layer":[{"mark":"area","encoding":{"y":{"field":"l","type":"quantitative","title":null,"scale":{"domain":[-0.069,0.177],"nice":false,"zero":false},"axis":{"values":[-0.05,0,0.05,0.1,0.15],"minExtent":88,"maxExtent":88}},"y2":{"field":"h"}}},{"mark":"line","encoding":{"y":{"field":"v","type":"quantitative","title":null,"scale":{"domain":[-0.069,0.177],"nice":false,"zero":false},"axis":{"values":[-0.05,0,0.05,0.1,0.15],"minExtent":88,"maxExtent":88}}}}]}]},
{"spacing":0,"vconcat":[{"width":178,"height":18,"data":{"values":[{"t":"Fintech2 : dtotalloans"}]},"mark":"text","encoding":{"text":{"field":"t"}},"view":{"fill":"#d6e2e9"}},{"width":178,"height":106,"data":{"name":"b23"},"encoding":{"x":{"field":"s","type":"quantitative","title":null,"scale":{"domain":[-0.5,10.5],"nice":false,"zero":false},"axis":null}},"layer":[{"mark":"area","encoding":{"y":{"field":"l","type":"quantitative","title":null,"scale":{"domain":[-0.033,0.006],"nice":false,"zero":false},"axis":{"values":[-0.03,-0.02,-0.01,0],"minExtent":61,"maxExtent":61}},"y2":{"field":"h"}}},{"mark":"line","encoding":{"y":{"field":"v","type":"quantitative","title":null,"scale":{"domain":[-0.033,0.006],"nice":false,"zero":false},"axis":{"values":[-0.03,-0.02,-0.01,0],"minExtent":61,"maxExtent":61}}}}]}]},
{"spacing":0,"vconcat":[{"width":178,"height":18,"data":{"values":[{"t":"Fintech2 : dCR5"}]},"mark":"text","encoding":{"text":{"field":"t"}},"view":{"fill":"#d6e2e9"}},{"width":178,"height":106,"data":{"name":"b24"},"encoding":{"x":{"field":"s","type":"quantitative","title":null,"scale":{"domain":[-0.5,10.5],"nice":false,"zero":false},"axis":null}},"layer":[{"mark":"area","encoding":{"y":{"field":"l","type":"quantitative","title":null,"scale":{"domain":[-0.027,0.327],"nice":false,"zero":false},"axis":{"values":[0,0.1,0.2,0.3],"minExtent":86,"maxExtent":86}},"y2":{"field":"h"}}},{"mark":"line","encoding":{"y":{"field":"v","type":"quantitative","title":null,"scale":{"domain":[-0.027,0.327],"nice":false,"zero":false},"axis":{"values":[0,0.1,0.2,0.3],"minExtent":86,"maxExtent":86}}}}]}]},
{"spacing":0,"vconcat":[{"width":178,"height":18,"data":{"values":[{"t":"dtotalloans : GDP_rate"}]},"mark":"text","encoding":{"text":{"field":"t"}},"view":{"fill":"#d6e2e9"}},{"width":178,"height":106,"data":{"name":"b31"},"encoding":{"x":{"field":"s","type":"quantitative","title":null,"scale":{"domain":[-0.5,10.5],"nice":false,"zero":false},"axis":null}},"layer":[{"mark":"area","encoding":{"y":{"field":"l","type":"quantitative","title":null,"scale":{"domain":[-0.0505,0.0475],"nice":false,"zero":false},"axis":{"values":[-0.04,-0.02,0,0.02,0.04],"minExtent":114,"maxExtent":114}},"y2":{"field":"h"}}},{"mark":"line","encoding":{"y":{"field":"v","type":"quantitative","title":null,"scale":{"domain":[-0.0505,0.0475],"nice":false,"zero":false},"axis":{"values":[-0.04,-0.02,0,0.02,0.04],"minExtent":114,"maxExtent":114}}}}]}]},
{"spacing":0,"vconcat":[{"width":178,"height":18,"data":{"values":[{"t":"dtotalloans : Fintech2"}]},"mark":"text","encoding":{"text":{"field":"t"}},"view":{"fill":"#d6e2e9"}},{"width":178,"height":106,"data":{"name":"b32"},"encoding":{"x":{"field":"s","type":"quantitative","title":null,"scale":{"domain":[-0.5,10.5],"nice":false,"zero":false},"axis":null}},"layer":[{"mark":"area","encoding":{"y":{"field":"l","type":"quantitative","title":null,"scale":{"domain":[-0.0184,0.0069],"nice":false,"zero":false},"axis":{"values":[-0.015,-0.01,-0.005,0,0.005],"minExtent":88,"maxExtent":88}},"y2":{"field":"h"}}},{"mark":"line","encoding":{"y":{"field":"v","type":"quantitative","title":null,"scale":{"domain":[-0.0184,0.0069],"nice":false,"zero":false},"axis":{"values":[-0.015,-0.01,-0.005,0,0.005],"minExtent":88,"maxExtent":88}}}}]}]},
{"spacing":0,"vconcat":[{"width":178,"height":18,"data":{"values":[{"t":"dtotalloans : dtotalloans"}]},"mark":"text","encoding":{"text":{"field":"t"}},"view":{"fill":"#d6e2e9"}},{"width":178,"height":106,"data":{"name":"b33"},"encoding":{"x":{"field":"s","type":"quantitative","title":null,"scale":{"domain":[-0.5,10.5],"nice":false,"zero":false},"axis":null}},"layer":[{"mark":"area","encoding":{"y":{"field":"l","type":"quantitative","title":null,"scale":{"domain":[-0.138,0.358],"nice":false,"zero":false},"axis":{"values":[-0.1,0,0.1,0.2,0.3],"minExtent":61,"maxExtent":61}},"y2":{"field":"h"}}},{"mark":"line","encoding":{"y":{"field":"v","type":"quantitative","title":null,"scale":{"domain":[-0.138,0.358],"nice":false,"zero":false},"axis":{"values":[-0.1,0,0.1,0.2,0.3],"minExtent":61,"maxExtent":61}}}}]}]},
{"spacing":0,"vconcat":[{"width":178,"height":18,"data":{"values":[{"t":"dtotalloans : dCR5"}]},"mark":"text","encoding":{"text":{"field":"t"}},"view":{"fill":"#d6e2e9"}},{"width":178,"height":106,"data":{"name":"b34"},"encoding":{"x":{"field":"s","type":"quantitative","title":null,"scale":{"domain":[-0.5,10.5],"nice":false,"zero":false},"axis":null}},"layer":[{"mark":"area","encoding":{"y":{"field":"l","type":"quantitative","title":null,"scale":{"domain":[-0.119,0.064],"nice":false,"zero":false},"axis":{"values":[-0.1,-0.05,0,0.05],"minExtent":86,"maxExtent":86}},"y2":{"field":"h"}}},{"mark":"line","encoding":{"y":{"field":"v","type":"quantitative","title":null,"scale":{"domain":[-0.119,0.064],"nice":false,"zero":false},"axis":{"values":[-0.1,-0.05,0,0.05],"minExtent":86,"maxExtent":86}}}}]}]},
{"spacing":0,"vconcat":[{"width":178,"height":18,"data":{"values":[{"t":"dCR5 : GDP_rate"}]},"mark":"text","encoding":{"text":{"field":"t"}},"view":{"fill":"#d6e2e9"}},{"width":178,"height":106,"data":{"name":"b41"},"encoding":{"x":{"field":"s","type":"quantitative","title":null,"scale":{"domain":[-0.5,10.5],"nice":false,"zero":false},"axis":{"values":[0,5,10]}}},"layer":[{"mark":"area","encoding":{"y":{"field":"l","type":"quantitative","title":null,"scale":{"domain":[-0.178,0.015],"nice":false,"zero":false},"axis":{"values":[-0.15,-0.1,-0.05,0],"minExtent":114,"maxExtent":114}},"y2":{"field":"h"}}},{"mark":"line","encoding":{"y":{"field":"v","type":"quantitative","title":null,"scale":{"domain":[-0.178,0.015],"nice":false,"zero":false},"axis":{"values":[-0.15,-0.1,-0.05,0],"minExtent":114,"maxExtent":114}}}}]}]},
{"spacing":0,"vconcat":[{"width":178,"height":18,"data":{"values":[{"t":"dCR5 : Fintech2"}]},"mark":"text","encoding":{"text":{"field":"t"}},"view":{"fill":"#d6e2e9"}},{"width":178,"height":106,"data":{"name":"b42"},"encoding":{"x":{"field":"s","type":"quantitative","title":null,"scale":{"domain":[-0.5,10.5],"nice":false,"zero":false},"axis":{"values":[0,5,10]}}},"layer":[{"mark":"area","encoding":{"y":{"field":"l","type":"quantitative","title":null,"scale":{"domain":[-0.013,0.027],"nice":false,"zero":false},"axis":{"values":[-0.01,0,0.01,0.02],"minExtent":88,"maxExtent":88}},"y2":{"field":"h"}}},{"mark":"line","encoding":{"y":{"field":"v","type":"quantitative","title":null,"scale":{"domain":[-0.013,0.027],"nice":false,"zero":false},"axis":{"values":[-0.01,0,0.01,0.02],"minExtent":88,"maxExtent":88}}}}]}]},
{"spacing":0,"vconcat":[{"width":178,"height":18,"data":{"values":[{"t":"dCR5 : dtotalloans"}]},"mark":"text","encoding":{"text":{"field":"t"}},"view":{"fill":"#d6e2e9"}},{"width":178,"height":106,"data":{"name":"b43"},"encoding":{"x":{"field":"s","type":"quantitative","title":null,"scale":{"domain":[-0.5,10.5],"nice":false,"zero":false},"axis":{"values":[0,5,10]}}},"layer":[{"mark":"area","encoding":{"y":{"field":"l","type":"quantitative","title":null,"scale":{"domain":[-0.0164,0.0024],"nice":false,"zero":false},"axis":{"values":[-0.015,-0.01,-0.005,0],"minExtent":61,"maxExtent":61}},"y2":{"field":"h"}}},{"mark":"line","encoding":{"y":{"field":"v","type":"quantitative","title":null,"scale":{"domain":[-0.0164,0.0024],"nice":false,"zero":false},"axis":{"values":[-0.015,-0.01,-0.005,0],"minExtent":61,"maxExtent":61}}}}]}]},
{"spacing":0,"vconcat":[{"width":178,"height":18,"data":{"values":[{"t":"dCR5 : dCR5"}]},"mark":"text","encoding":{"text":{"field":"t"}},"view":{"fill":"#d6e2e9"}},{"width":178,"height":106,"data":{"name":"b44"},"encoding":{"x":{"field":"s","type":"quantitative","title":null,"scale":{"domain":[-0.5,10.5],"nice":false,"zero":false},"axis":{"values":[0,5,10]}}},"layer":[{"mark":"area","encoding":{"y":{"field":"l","type":"quantitative","title":null,"scale":{"domain":[-0.65,1.34],"nice":false,"zero":false},"axis":{"values":[-0.5,0,0.5,1],"minExtent":86,"maxExtent":86}},"y2":{"field":"h"}}},{"mark":"line","encoding":{"y":{"field":"v","type":"quantitative","title":null,"scale":{"domain":[-0.65,1.34],"nice":false,"zero":false},"axis":{"values":[-0.5,0,0.5,1],"minExtent":86,"maxExtent":86}}}}]}]}
]},
{"width":900,"height":46,"data":{"values":[{"k":"95% CI"},{"k":"Orthogonalized IRF"}]},"mark":{"type":"point","filled":true,"opacity":0},"encoding":{"color":{"field":"k","type":"nominal","scale":{"domain":["95% CI","Orthogonalized IRF"],"range":["#b3b3b3","#1c2b5a"]},"legend":{"orient":"none","legendX":120,"legendY":0,"direction":"horizontal","title":null,"fillColor":"white","strokeColor":"black","padding":9,"labelFontSize":28,"labelColor":"black","labelLimit":0,"symbolSize":784,"symbolOffset":38,"labelOffset":55,"columnPadding":37,"encode":{"symbols":{"update":{"shape":{"signal":"datum.value === '95% CI' ? 'M-3.75,-1H3.75V1H-3.75Z' : 'M-3.75,0H3.75'"},"fill":{"signal":"datum.value === '95% CI' ? '#b3b3b3' : 'transparent'"},"stroke":{"signal":"datum.value === '95% CI' ? '#9a9a9a' : '#1c2b5a'"},"strokeWidth":{"signal":"datum.value === '95% CI' ? 2 : 2.5"},"opacity":{"value":1},"fillOpacity":{"value":1},"strokeOpacity":{"value":1},"size":{"value":784}}}}}}},"title":{"text":"impulse : response","orient":"bottom","anchor":"start","fontSize":22,"offset":11,"dx":-79},"view":{"fill":"transparent"}}
]}
]}
]
}
